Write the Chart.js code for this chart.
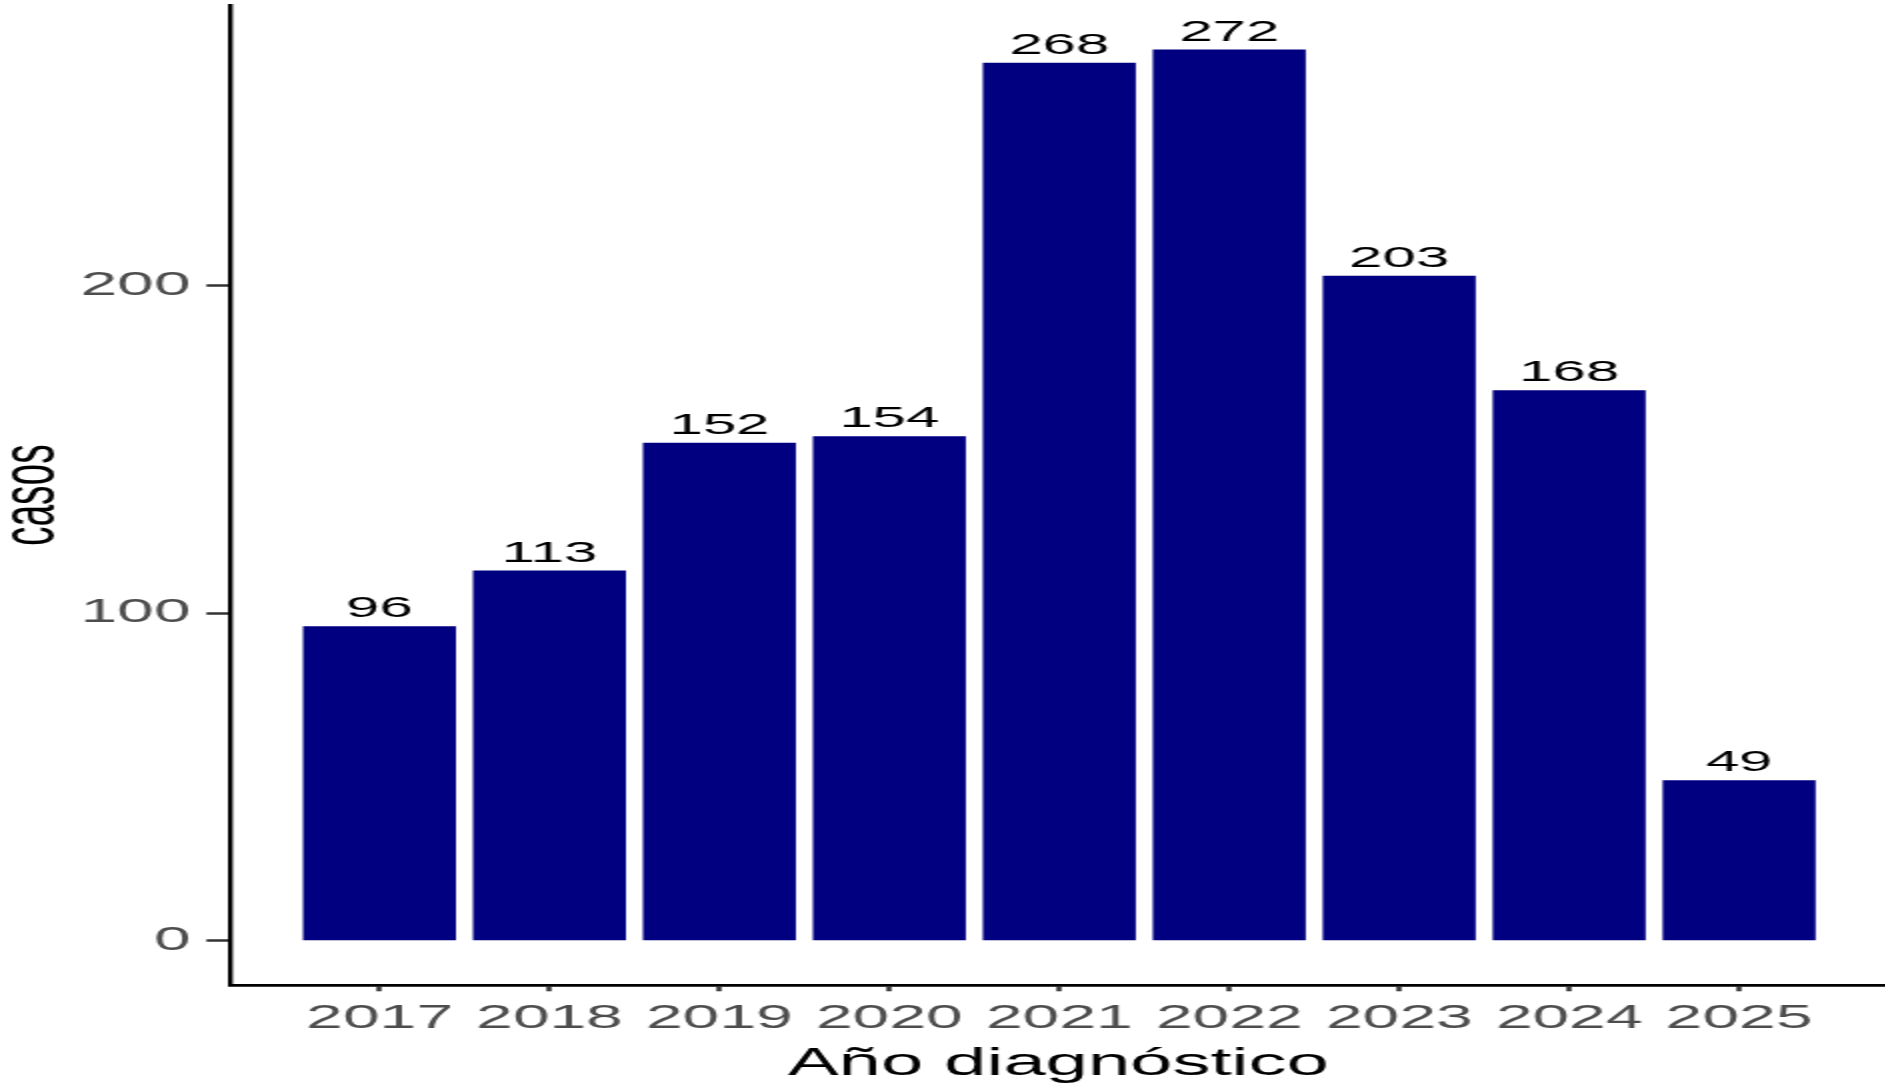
<!DOCTYPE html>
<html>
<head>
<meta charset="utf-8">
<script src="https://cdn.jsdelivr.net/npm/chart.js@4/dist/chart.umd.min.js"></script>
<style>
  html, body { margin: 0; padding: 0; background: #fff; overflow: hidden; }
  /* the reference is stretched horizontally about 2x, so draw at half width and stretch */
  #wrap { width: 943px; height: 1088px; transform: scale(2, 1); transform-origin: 0 0; }
  #casosChart { display: block; }
</style>
</head>
<body>
<div id="wrap">
  <canvas id="casosChart" width="943" height="1088"></canvas>
</div>
<script>
const years = [2017, 2018, 2019, 2020, 2021, 2022, 2023, 2024, 2025];
const casos = [96, 113, 152, 154, 268, 272, 203, 168, 49];
const yTicks = [0, 100, 200];

(() => {
  const ctx = document.querySelector("#casosChart");
  const font = '"Liberation Sans", Arial, sans-serif';

  // value labels above each bar
  const barLabels = {
    id: "barLabels",
    afterDatasetsDraw(chart) {
      const c = chart.ctx;
      const meta = chart.getDatasetMeta(0);
      c.save();
      c.font = "30px " + font;
      c.fillStyle = "#000000";
      c.textAlign = "center";
      c.textBaseline = "alphabetic";
      meta.data.forEach((bar, i) => {
        c.fillText(String(casos[i]), bar.x, bar.y - 9);
      });
      c.restore();
    },
  };

  new Chart(ctx, {
    type: "bar",
    data: {
      labels: years,
      datasets: [
        {
          data: casos,
          backgroundColor: "#000080",
          barPercentage: 0.9,
          categoryPercentage: 1,
        },
      ],
    },
    options: {
      responsive: false,
      animation: false,
      layout: { padding: { top: 5, left: 0, right: 0, bottom: 0 } },
      plugins: {
        legend: { display: false },
        tooltip: { enabled: false },
      },
      scales: {
        x: {
          type: "linear",
          min: 2016.123,
          max: 2025.864,
          offset: false,
          afterBuildTicks: (scale) => {
            scale.ticks = years.map((v) => ({ value: v }));
          },
          afterFit: (scale) => {
            scale.height = 102.7;
            scale.paddingLeft = 0;
            scale.paddingRight = 0;
          },
          grid: {
            offset: false,
            drawOnChartArea: false,
            drawTicks: true,
            tickLength: 6,
            tickWidth: 2.5,
            tickColor: "#333333",
          },
          border: { display: true, color: "#000000", width: 2.7 },
          ticks: {
            autoSkip: false,
            maxRotation: 0,
            padding: 8,
            color: "#4D4D4D",
            font: { family: font, size: 33 },
            callback: (v) => String(v),
          },
          title: {
            display: true,
            text: "Año diagnóstico",
            color: "#000000",
            font: { family: font, size: 38 },
            padding: { top: 0, bottom: 1 },
          },
        },
        y: {
          min: -13.6,
          max: 285.6,
          afterBuildTicks: (scale) => {
            scale.ticks = yTicks.map((v) => ({ value: v }));
          },
          afterFit: (scale) => {
            scale.width = 115.25;
            scale.paddingTop = 0;
            scale.paddingBottom = 0;
          },
          grid: {
            drawOnChartArea: false,
            drawTicks: true,
            tickLength: 12,
            tickWidth: 2.5,
            tickColor: "#333333",
          },
          border: { display: true, color: "#000000", width: 2.4 },
          ticks: {
            padding: 8,
            color: "#4D4D4D",
            font: { family: font, size: 33 },
          },
          title: {
            display: true,
            text: "casos",
            color: "#000000",
            font: { family: font, size: 39, lineHeight: 0.6 },
            padding: { top: 4.5, bottom: 0 },
          },
        },
      },
    },
    plugins: [barLabels],
  });
})();
</script>
</body>
</html>
